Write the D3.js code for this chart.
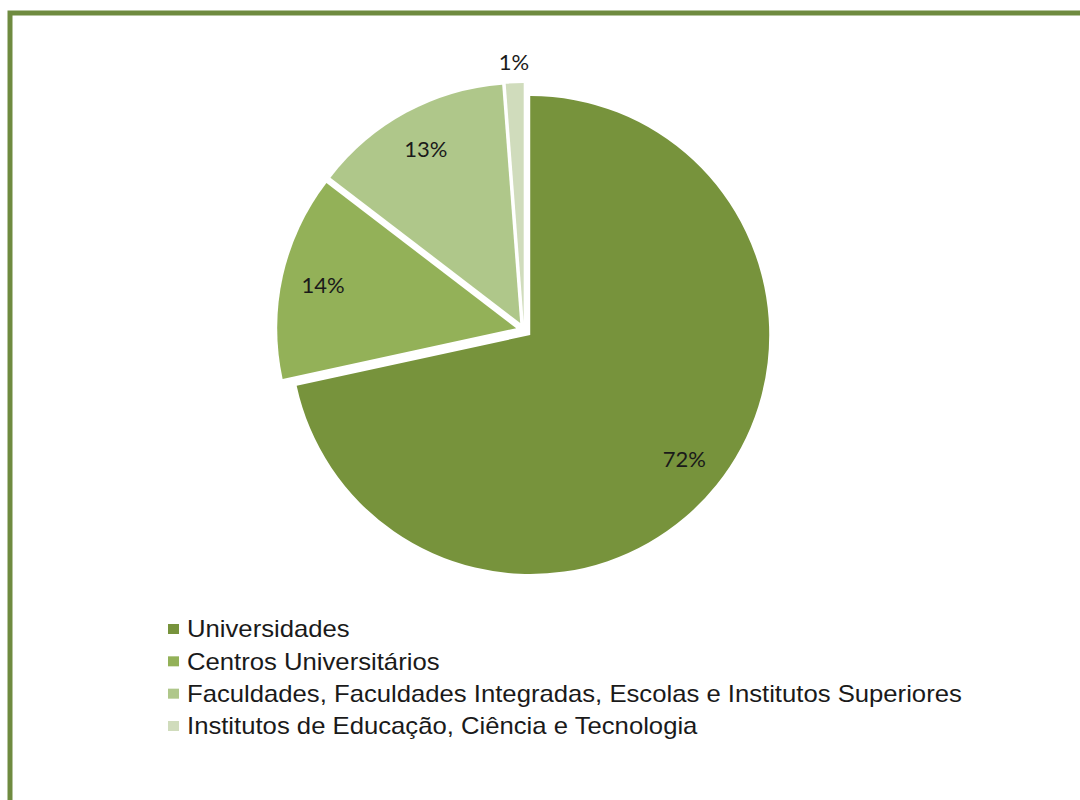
<!DOCTYPE html>
<html>
<head>
<meta charset="utf-8">
<script src="https://cdn.jsdelivr.net/npm/d3@7"></script>
<style>
  body { margin: 0; background: #fff; }
  svg { display: block; }
</style>
</head>
<body>
<div id="chart"></div>
<script>
// Chart data
const categories = [
    "Universidades",
    "Centros Universitários",
    "Faculdades, Faculdades Integradas, Escolas e Institutos Superiores",
    "Institutos de Educação, Ciência e Tecnologia"
];
const shares = [71.6, 13.8, 13.4, 1.2];
const labels = ["72%", "14%", "13%", "1%"];
const colors = ["#77933c", "#93b158", "#afc78a", "#d0dcbc"];

const width = 1080, height = 800;
const cx = 524, cy = 330, radius = 239, explode = 8;

const svg = d3.select("#chart")
    .append("svg")
    .attr("width", width)
    .attr("height", height);

// Frame (runs off the right and bottom edges)
svg.append("rect")
    .attr("x", 10)
    .attr("y", 13)
    .attr("width", 1100)
    .attr("height", 820)
    .attr("fill", "none")
    .attr("stroke", "#6f8b40")
    .attr("stroke-width", 5);

const pie = d3.pie()
    .sort(null)
    .value(d => d.value);

const arc = d3.arc()
    .innerRadius(0)
    .outerRadius(radius);

const data = categories.map((c, i) => ({ name: c, value: shares[i], label: labels[i], color: colors[i] }));
const arcs = pie(data);

const midAngle = d => (d.startAngle + d.endAngle) / 2;
const labelRadius = d => d.data.value < 5 ? radius + 29 : 206;

const g = svg.append("g")
    .attr("transform", `translate(${cx},${cy})`);

// Exploded slices
g.selectAll("path")
    .data(arcs)
    .enter()
    .append("path")
    .attr("transform", d => {
        const a = midAngle(d);
        return `translate(${explode * Math.sin(a)},${-explode * Math.cos(a)})`;
    })
    .attr("d", arc)
    .attr("fill", d => d.data.color);

// Slice labels: inside for big slices, outside for the tiny one
g.selectAll("text.slice-label")
    .data(arcs)
    .enter()
    .append("text")
    .attr("class", "slice-label")
    .attr("x", d => labelRadius(d) * Math.sin(midAngle(d)))
    .attr("y", d => -labelRadius(d) * Math.cos(midAngle(d)))
    .attr("dy", "0.35em")
    .attr("text-anchor", "middle")
    .style("font-family", "Lato, 'Open Sans', sans-serif")
    .style("font-size", "22px")
    .style("fill", "#1a1a1a")
    .text(d => d.data.label);

// Legend
const legend = svg.append("g")
    .attr("transform", "translate(168,629)");

const rowY = d3.scalePoint()
    .domain(categories)
    .range([0, 97]);

const rows = legend.selectAll("g")
    .data(data)
    .enter()
    .append("g")
    .attr("transform", d => `translate(0,${rowY(d.name)})`);

rows.append("rect")
    .attr("x", 0)
    .attr("y", -5)
    .attr("width", 11)
    .attr("height", 10)
    .attr("fill", d => d.color);

rows.append("text")
    .attr("transform", "translate(19,0) scale(1.07,1)")
    .attr("dy", "0.35em")
    .style("font-family", "'Liberation Sans', Arial, sans-serif")
    .style("font-size", "24px")
    .style("fill", "#1a1a1a")
    .text(d => d.name);
</script>
</body>
</html>
